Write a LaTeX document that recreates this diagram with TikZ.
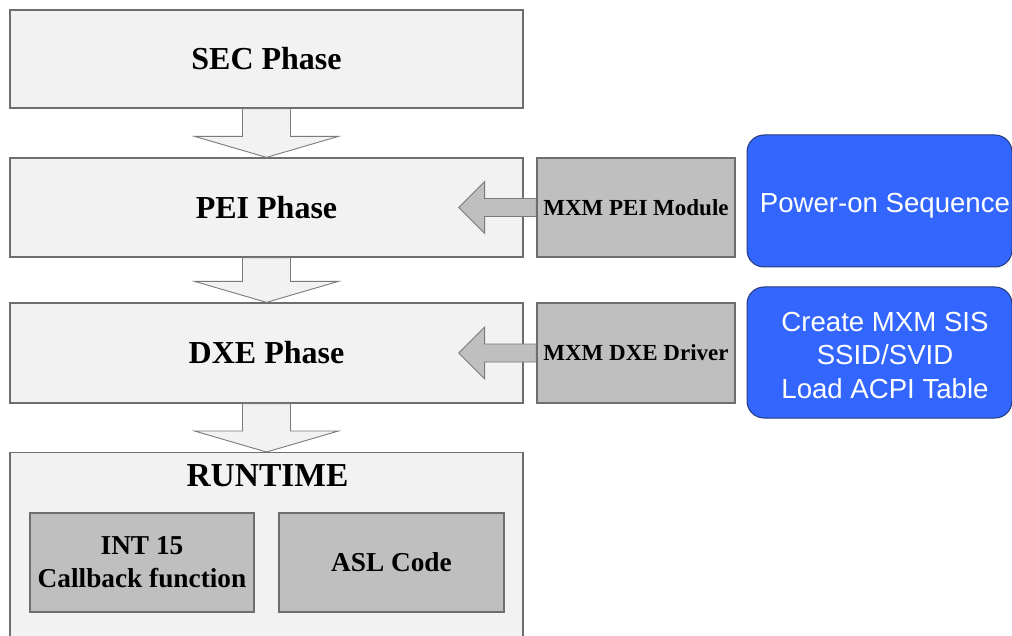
\documentclass[tikz,border=0pt]{standalone}
\usepackage{fontspec}
\setmainfont{Liberation Serif}
\newfontfamily\bluefont{Liberation Sans}
\usetikzlibrary{calc}

\definecolor{phasefill}{HTML}{F2F2F2}
\definecolor{modfill}{HTML}{BFBFBF}
\definecolor{edgegray}{HTML}{6E6E6E}
\definecolor{arrowedge}{HTML}{7A7A7A}
\definecolor{bluefill}{HTML}{3366FF}
\definecolor{blueedge}{HTML}{243A7A}

\tikzset{
  x=1pt, y=-1pt,
  phase/.style={draw=edgegray, line width=1.3pt, fill=phasefill, inner sep=0pt,
    font=\fontsize{32}{36}\selectfont\bfseries},
  modbox/.style={draw=edgegray, line width=1.3pt, fill=modfill, inner sep=0pt,
    align=center},
  modtext/.style={font=\fontsize{23}{27}\selectfont\bfseries},
  rttext/.style={font=\fontsize{27.3}{33}\selectfont\bfseries},
  infobox/.style={draw=blueedge, line width=1pt, fill=bluefill, rounded corners=17pt,
    inner sep=0pt},
  infotext/.style={text=white, inner sep=0pt, align=center,
    font=\bluefont\fontsize{27.6}{33.5}\selectfont},
  downblock/.style={draw=arrowedge, line width=0.9pt, fill=phasefill, line join=miter},
  leftblock/.style={draw=arrowedge, line width=0.9pt, fill=modfill, line join=miter},
}

\begin{document}
\begin{tikzpicture}
\useasboundingbox (0,0) rectangle (1012,636);
\clip (0,0) rectangle (1012,636);

% boot phases
\node[phase, minimum width=513pt, minimum height=98pt] (sec) at (266.5,59) {SEC Phase};
\node[phase, minimum width=513pt, minimum height=99pt] (pei) at (266.5,207.5) {PEI Phase};
\node[phase, minimum width=513pt, minimum height=100pt] (dxe) at (266.5,353) {DXE Phase};
\node[phase, minimum width=513pt, minimum height=210pt, anchor=north] (run) at (266.5,452) {};
\node[font=\fontsize{33.5}{36}\selectfont\bfseries, inner sep=0pt] (runlabel) at (267.5,476) {RUNTIME};

% runtime components
\node[modbox, rttext, minimum width=224pt, minimum height=99pt] (int15) at (142,562.5)
      {INT 15\\Callback function};
\node[modbox, rttext, minimum width=225pt, minimum height=99pt] (asl) at (391.5,562.5) {ASL Code};

% block arrows between the phases
\foreach \a/\b in {sec/pei, pei/dxe, dxe/run} {
  \coordinate (t) at (\b.north);
  \draw[downblock]
    ($(\a.south)+(-24,0)$) -- ($(\a.south)+(24,0)$) -- ($(t)+(24,-21)$)
    -- ($(t)+(72,-21)$) -- (t) -- ($(t)+(-72,-21)$) -- ($(t)+(-24,-21)$) -- cycle;
}

% arrow ends inside the phase boxes
\coordinate (peitip) at ($(pei.east)+(-65,0)$);
\coordinate (dxetip) at ($(dxe.east)+(-65,0)$);

% MXM modules
\node[modbox, modtext, minimum width=198pt, minimum height=99pt] (mxmpei) at (636,207.5) {MXM PEI Module};
\node[modbox, modtext, minimum width=198pt, minimum height=100pt] (mxmdxe) at (636,353) {MXM DXE Driver};

\foreach \s/\e in {mxmpei/peitip, mxmdxe/dxetip} {
  \draw[leftblock]
    ($(\s.west)+(0,-9)$) -- ($(\e)+(26,-9)$) -- ($(\e)+(26,-26)$) -- (\e)
    -- ($(\e)+(26,26)$) -- ($(\e)+(26,9)$) -- ($(\s.west)+(0,9)$) -- cycle;
}
% redraw module boxes over the arrow roots
\node[modbox, modtext, minimum width=198pt, minimum height=99pt] at (mxmpei) {MXM PEI Module};
\node[modbox, modtext, minimum width=198pt, minimum height=100pt] at (mxmdxe) {MXM DXE Driver};

% module descriptions
\node[infobox, minimum width=265pt, minimum height=132pt] (power) at (879.5,201) {};
\node[infotext] (powertext) at (885,205.5) {Power-on Sequence};
\node[infobox, minimum width=265pt, minimum height=131pt] (sis) at (879.5,352.5) {};
\node[infotext] (sistext) at (885,355) {Create MXM SIS\\SSID/SVID\\Load ACPI Table};
\end{tikzpicture}
\end{document}
